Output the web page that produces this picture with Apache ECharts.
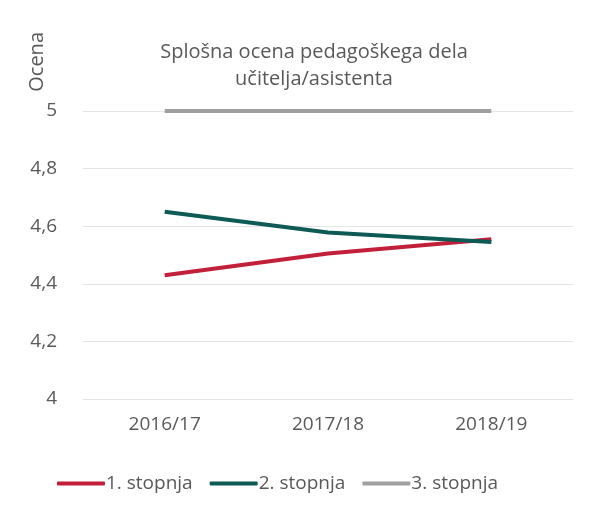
<!DOCTYPE html>
<html>
<head>
<meta charset="utf-8">
<script src="https://cdn.jsdelivr.net/npm/echarts@6/dist/echarts.min.js"></script>
<style>
  html, body { margin: 0; padding: 0; background: #fff; }
  #chart { width: 598px; height: 515px; }
</style>
</head>
<body>
<div id="chart"></div>
<script>
const years = ['2016/17', '2017/18', '2018/19']
const stopnja1 = [4.43, 4.505, 4.555]
const stopnja2 = [4.65, 4.578, 4.545]
const stopnja3 = [5, 5, 5]
const yTicks = [4, 4.2, 4.4, 4.6, 4.8, 5]

const chart = echarts.init(document.getElementById('chart'))
const font = 'Open Sans'
const textColor = '#595959'

chart.setOption({
  animation: false,
  title: {
    text: 'Splošna ocena pedagoškega dela\nučitelja/asistenta',
    left: 309,
    top: 34,
    textAlign: 'center',
    textStyle: {
      fontFamily: font,
      fontSize: 20,
      fontWeight: 'normal',
      color: textColor,
      lineHeight: 27
    }
  },
  graphic: [{
    type: 'text',
    left: 27,
    top: 32,
    rotation: Math.PI / 2,
    style: { text: 'Ocena', font: '20px "Open Sans"', fill: textColor }
  }],
  legend: {
    bottom: 17,
    left: 52,
    itemWidth: 48,
    itemHeight: 4,
    itemGap: 17,
    icon: 'roundRect',
    textStyle: { fontFamily: font, fontSize: 19, color: textColor, padding: [0, 0, 0, -4] },
    data: ['1. stopnja', '2. stopnja', '3. stopnja']
  },
  grid: { left: 83, right: 25, top: 111, bottom: 116 },
  xAxis: {
    type: 'category',
    data: years,
    axisLine: { show: false },
    axisTick: { show: false },
    axisLabel: { fontFamily: font, fontSize: 19, color: textColor, margin: 16 }
  },
  yAxis: {
    type: 'value',
    min: 4,
    max: 5,
    interval: 0.2,
    axisLine: { show: false },
    axisTick: { show: false },
    splitLine: { lineStyle: { color: '#e3e3e3', width: 1 } },
    axisLabel: {
      fontFamily: font,
      fontSize: 19,
      color: textColor,
      margin: 26,
      formatter: v => yTicks.includes(+v.toFixed(1)) ? String(+v.toFixed(1)).replace('.', ',') : ''
    }
  },
  series: [
    {
      name: '1. stopnja', type: 'line', data: stopnja1, showSymbol: false,
      lineStyle: { color: '#c21f3a', width: 4 }, itemStyle: { color: '#c21f3a' }
    },
    {
      name: '2. stopnja', type: 'line', data: stopnja2, showSymbol: false,
      lineStyle: { color: '#0e5a55', width: 4 }, itemStyle: { color: '#0e5a55' }
    },
    {
      name: '3. stopnja', type: 'line', data: stopnja3, showSymbol: false,
      lineStyle: { color: '#a0a0a0', width: 4 }, itemStyle: { color: '#a0a0a0' }
    }
  ]
})
</script>
</body>
</html>
